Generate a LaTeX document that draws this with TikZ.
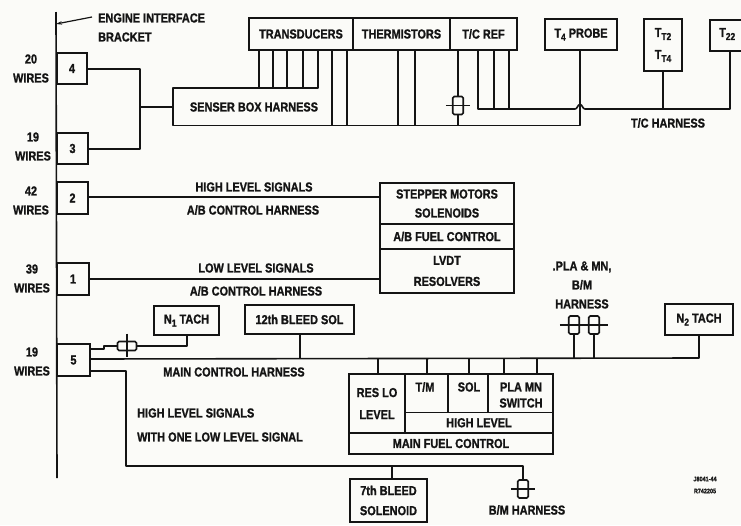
\documentclass[tikz,border=0pt]{standalone}
\usepackage{fontspec}
\setmainfont{Liberation Sans}[BoldFeatures={FakeBold=1.2,FakeStretch=0.84}]
\usetikzlibrary{arrows.meta,calc}
\definecolor{ink}{HTML}{141414}
\definecolor{paper}{HTML}{FBFBF8}
\newcommand{\bxn}[6]{%
  \pgfmathsetmacro{\cxv}{(#2+#4)/2}\pgfmathsetmacro{\cyv}{(#3+#5)/2}%
  \pgfmathsetmacro{\wv}{#4-#2}\pgfmathsetmacro{\hv}{#5-#3}%
  \node[boxn,minimum width=\wv pt,minimum height=\hv pt] (#1) at (\cxv,\cyv) {#6};}
\tikzset{
  wire/.style={draw=ink,line width=1.6pt,line join=round},
  boxn/.style={draw=ink,line width=1.6pt,inner sep=0pt,align=center,fill=paper,font=\lab},
  lbl/.style={inner sep=0pt,align=center,font=\lab,text=ink},
  lbll/.style={lbl,anchor=west},
  connv/.style={draw=ink,line width=1.6pt,fill=paper,rounded corners=1.5pt,minimum width=10.5pt,minimum height=18pt,inner sep=0pt},
  connh/.style={draw=ink,line width=1.6pt,fill=paper,rounded corners=1.5pt,minimum width=19pt,minimum height=9pt,inner sep=0pt},
  tip/.style={-{Stealth[length=6pt,width=3.5pt]}}
}
\newcommand{\lab}{\fontsize{13}{19}\selectfont\bfseries}
\newcommand{\subt}[1]{\raisebox{-3pt}{\fontsize{10}{10}\selectfont #1}}
\begin{document}
\begin{tikzpicture}[x=1pt,y=-1pt,text=ink]
\useasboundingbox (0,0) rectangle (741,525);
\clip (0,0) rectangle (741,525);
\fill[paper] (0,0) rectangle (741,525);
% bracket
\coordinate (brTop) at (56,12);
\coordinate (brBot) at (57,478);
\draw[wire] (brTop) -- (brBot);
\coordinate (brArrow) at (56,24);
\coordinate (brFrom) at (92,17);
\draw[wire,line width=1.2pt,tip] (brFrom) -- (brArrow);
\node[lbl,anchor=west] (brA) at (98,18) {ENGINE INTERFACE};
\node[lbl,anchor=west] (brB) at (98,37) {BRACKET};
% connector boxes
\bxn{b4}{57}{53}{87}{84}{4}
\bxn{b3}{57}{133}{88}{164}{3}
\bxn{b2}{57}{182}{88}{214}{2}
\bxn{b1}{57}{263}{89}{295}{1}
\bxn{b5}{57}{344}{90}{376}{5}
\node[lbl] (w4) at (31,68.5) {20\\WIRES};
\node[lbl] (w3) at (33,146.5) {19\\WIRES};
\node[lbl] (w2) at (31,200.5) {42\\WIRES};
\node[lbl] (w1) at (32,278.5) {39\\WIRES};
\node[lbl] (w5) at (32,361.5) {19\\WIRES};
% top row
\bxn{trans}{249}{18}{353}{50}{TRANSDUCERS}
\bxn{therm}{353}{18}{450}{50}{THERMISTORS}
\bxn{tcref}{450}{18}{517}{50}{T/C REF}
\bxn{t4}{545}{19}{617}{50}{T\subt{4} PROBE}
\bxn{tt}{644}{19}{682}{71}{T\subt{T2}\\[3pt]T\subt{T4}}
\node[boxn,minimum width=42pt,minimum height=31pt,anchor=north west] (t22) at (709,19) {};
\node[lbl,anchor=west] (t22l) at (719,34) {T\subt{22}};
% senser harness
\coordinate (sbTL) at (173,88);
\coordinate (sbBL) at (173,125.5);
\coordinate (sbTR) at (318,88);
\coordinate (sbBR) at (580,125.5);
\coordinate (t4leg) at (580,50);
\draw[wire] (trans.south -| sbTR) -- (sbTR) -- (sbTL) -- (sbBL) -- (sbBR) -- (t4.south -| sbBR);
\node[lbl] (sbl) at (254,107) {SENSER BOX HARNESS};
\coordinate (sbIn) at (173,107);
\coordinate (jn) at (140,107);
\coordinate (jt) at (140,69);
\coordinate (jb) at (140,149);
\draw[wire] (b4.east |- jt) -- (jt) -- (jb) -- (b3.east |- jb);
\draw[wire] (jn) -- (sbIn);
\foreach \n/\x in {a/259,b/273,c/287,d/303}{
  \coordinate (ll\n) at (\x,88);
  \draw[wire] (trans.south -| ll\n) -- (ll\n);
}
\foreach \n/\x in {a/332,b/347}{
  \coordinate (lm\n) at (\x,125.5);
  \draw[wire] (trans.south -| lm\n) -- (lm\n);
}
\foreach \n/\x in {a/398,b/415}{
  \coordinate (lt\n) at (\x,125.5);
  \draw[wire] (therm.south -| lt\n) -- (lt\n);
}
% T/C ref
\coordinate (tcb) at (458,125.5);
\draw[wire] (tcref.south -| tcb) -- (tcb);
\node[connv] (c1) at (458,105.5) {};
\draw[wire] ($(c1.west)+(-6,0)$) -- ($(c1.east)+(6,0)$);
\coordinate (thL) at (478,109);
\coordinate (thR) at (730,109);
\coordinate (hopL) at (575,109);
\coordinate (hopM) at (580,104.5);
\coordinate (hopR) at (585,109);
\draw[wire] (tcref.south -| thL) -- (thL) -- (hopL) .. controls (577.5,109) and (577.5,104.5) .. (hopM) .. controls (582.5,104.5) and (582.5,109) .. (hopR) -- (thR) -- (t22.south -| thR);
\foreach \n/\x in {a/494,b/509}{
  \coordinate (lc\n) at (\x,109);
  \draw[wire] (tcref.south -| lc\n) -- (lc\n);
}
\draw[wire] (tt.south) -- (tt.south |- thR);
\node[lbl] (tch) at (668,123) {T/C HARNESS};
% A/B harnesses
\bxn{step}{380}{183}{514}{224}{STEPPER MOTORS\\[0pt]SOLENOIDS}
\bxn{abf}{380}{224}{514}{249}{A/B FUEL CONTROL}
\bxn{lvdt}{380}{249}{514}{293}{LVDT\\[2pt]RESOLVERS}
\coordinate (s2) at (380,197);
\coordinate (s1) at (380,279);
\draw[wire] (b2.east |- s2) -- (s2);
\draw[wire] (b1.east |- s1) -- (s1);
\node[lbl] (h1) at (254,187) {HIGH LEVEL SIGNALS};
\node[lbl] (h2) at (253,210) {A/B CONTROL HARNESS};
\node[lbl] (h3) at (256,268) {LOW LEVEL SIGNALS};
\node[lbl] (h4) at (256,291) {A/B CONTROL HARNESS};
% tachs etc.
\bxn{n1}{154}{306}{219}{335}{N\subt{1} TACH}
\bxn{bl12}{245}{305}{354}{334}{12th BLEED SOL}
\bxn{n2}{665}{304}{733}{335}{N\subt{2} TACH}
\coordinate (m5) at (90,359);
\coordinate (mR) at (699,358);
\draw[wire] (m5) -- (mR) -- (n2.south -| mR);
\coordinate (mb) at (300,358.5);
\draw[wire] (bl12.south -| mb) -- (mb);
\node[lbl] (mch) at (234,372) {MAIN CONTROL HARNESS};
% n1 line
\coordinate (a1) at (90,349);
\coordinate (a2) at (104,349);
\coordinate (a3) at (104,346);
\coordinate (a4) at (187,346);
\draw[wire] (a1) -- (a2) -- (a3) -- (a4) -- (n1.south -| a4);
\node[connh] (c2) at (127,346) {};
\draw[wire] ($(c2.north)+(0,-7)$) -- ($(c2.south)+(0,6)$);
% third line
\coordinate (d1) at (90,371);
\coordinate (d2) at (126,371);
\coordinate (d3) at (126,466);
\coordinate (d4) at (523,466);
\coordinate (d5) at (523,480);
\draw[wire] (d1) -- (d2) -- (d3) -- (d4) -- (d5);
\node[lbll] (hl1) at (137,413) {HIGH LEVEL SIGNALS};
\node[lbll] (hl2) at (137,437) {WITH ONE LOW LEVEL SIGNAL};
\node[connv] (c3) at (523,489) {};
\draw[wire] ($(c3.west)+(-6,0)$) -- ($(c3.east)+(6,0)$);
\node[lbl] (bmh) at (527,510) {B/M HARNESS};
\bxn{bl7}{350}{479}{427}{522}{7th BLEED\\[1pt]SOLENOID}
\coordinate (d6) at (392,466);
\draw[wire] (d6) -- (bl7.north -| d6);
% PLA connectors
\foreach \n/\x in {p1/574,p2/594}{
  \coordinate (\n b) at (\x,358.5);
  \node[connv,minimum height=18pt] (\n) at (\x,325) {};
  \draw[wire] (\n.south) -- (\n b);
}
\draw[wire] ($(p1.west)+(-8,0)$) -- ($(p2.east)+(8,0)$);
\node[lbl] (pla) at (582,285) {.PLA \& MN,\\B/M\\HARNESS};
% main fuel control
\bxn{res}{349}{374}{405}{433}{RES LO\\[3pt]LEVEL}
\bxn{tm}{405}{374}{448}{412.5}{}
\bxn{sol}{448}{374}{488}{412.5}{}
\bxn{pla2}{488}{374}{553}{412.5}{}
\bxn{hi}{405}{412.5}{553}{433}{HIGH LEVEL}
\bxn{mfc}{349}{433}{553}{454}{MAIN FUEL CONTROL}
\node[lbl] (tml) at (425,387) {T/M};
\node[lbl] (soll) at (469,387) {SOL};
\node[lbl] (pl1) at (521,387) {PLA MN};
\node[lbl] (pl2) at (521,403) {SWITCH};
\foreach \n/\x in {a/378,b/427,c/469,d/504,e/537}{
  \coordinate (fl\n) at (\x,358.5);
  \coordinate (fb\n) at (\x,374);
  \draw[wire] (fl\n) -- (fb\n);
}
\node[lbl,font=\fontsize{6.5}{12}\selectfont\bfseries] (ref) at (705,485) {J8041-44\\R742205};
\end{tikzpicture}
\end{document}
